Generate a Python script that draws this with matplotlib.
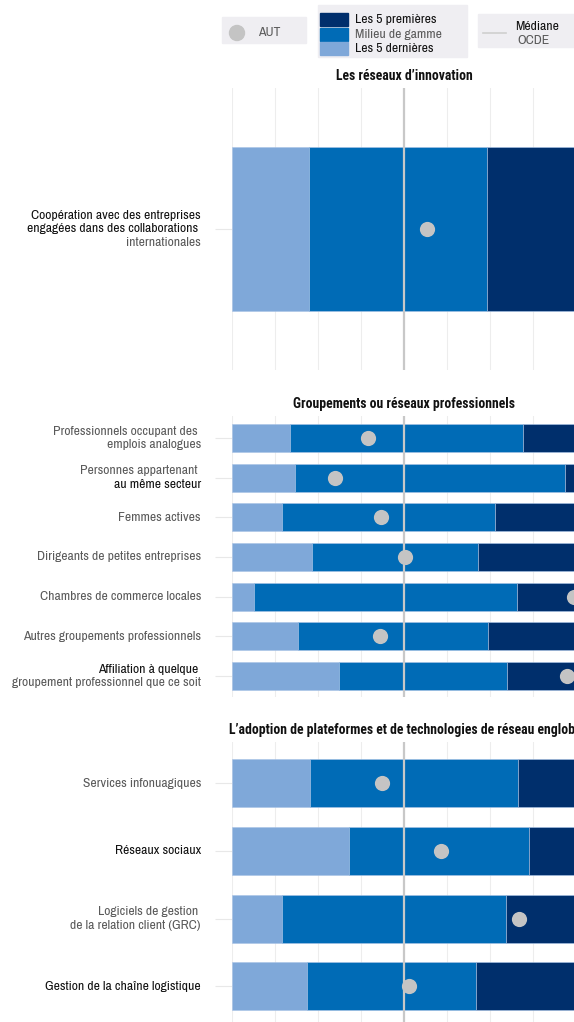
import matplotlib.pyplot as plt
import matplotlib.patches as mpatches
import numpy as np

plt.rcParams['font.family'] = ['Archivo Narrow', 'Liberation Sans', 'DejaVu Sans']
TITLE_FONT = ['Roboto Condensed', 'IBM Plex Sans Condensed', 'Liberation Sans', 'DejaVu Sans']

# --- data (share of firms, scaled 0-100, OECD median = 50) ---
titles = ["Les réseaux d’innovation",
          "Groupements ou réseaux professionnels",
          "L’adoption de plateformes et de technologies de réseau englobantes"]

labels_1 = ["Coopération avec des entreprises\nengagées dans des collaborations \ninternationales"]
lo_1 = [22.4]
hi_1 = [74.1]
aut_1 = [56.7]

labels_2 = ["Professionnels occupant des \nemplois analogues",
            "Personnes appartenant \nau même secteur",
            "Femmes actives",
            "Dirigeants de petites entreprises",
            "Chambres de commerce locales",
            "Autres groupements professionnels",
            "Affiliation à quelque \ngroupement professionnel que ce soit"]
lo_2 = [16.9, 18.3, 14.6, 23.3, 6.4, 19.1, 31.2]
hi_2 = [84.6, 96.8, 76.5, 71.4, 82.8, 74.3, 79.8]
aut_2 = [39.5, 29.9, 43.3, 50.2, 99.4, 43.0, 97.4]

labels_3 = ["Services infonuagiques",
            "Réseaux sociaux",
            "Logiciels de gestion \nde la relation client (GRC)",
            "Gestion de la chaîne logistique"]
lo_3 = [22.8, 34.1, 14.5, 21.7]
hi_3 = [83.0, 86.3, 79.6, 71.0]
aut_3 = [43.6, 60.7, 83.4, 51.5]

median = 50

# label lines shown in black (others are gray)
dark_lines = {"Coopération avec des entreprises", "engagées dans des collaborations ",
              "au même secteur", "Affiliation à quelque ",
              "Réseaux sociaux", "Gestion de la chaîne logistique"}

DARK = '#002F6C'
MID = '#006BB6'
LIGHT = '#7FA8D9'
DOT = '#C4C4C4'
GRAY_TXT = '#5a5a5a'
BLACK_TXT = '#111111'
LEG_BG = '#EFEEF2'

W, H = 574, 1022
fig = plt.figure(figsize=(W / 100, H / 100), dpi=100)


def rect(x0, y0, x1, y1):
    return [x0 / W, 1 - y1 / H, (x1 - x0) / W, (y1 - y0) / H]


def fx(x):
    return x / W


def fy(y):
    return 1 - y / H


panels = [
    (labels_1, lo_1, hi_1, aut_1, (88, 370), 0.5, 0.5, 0.585),
    (labels_2, lo_2, hi_2, aut_2, (416, 697), 0.555, 0.53, 0.70),
    (labels_3, lo_3, hi_3, aut_3, (742, 1022), 0.61, 0.53, 0.71),
]

for i, (labels, lo, hi, aut, (top, bot), ptop, pbot, bh) in enumerate(panels):
    ax = fig.add_axes(rect(232, top, 576, bot))
    n = len(labels)
    y = np.arange(n)
    lo = np.array(lo)
    hi = np.array(hi)
    ax.barh(y, lo, left=0, height=bh, color=LIGHT, edgecolor='#a9c3e6', linewidth=0.4, zorder=2)
    ax.barh(y, hi - lo, left=lo, height=bh, color=MID, edgecolor='#a9c3e6', linewidth=0.4, zorder=2)
    ax.barh(y, 100 - hi, left=hi, height=bh, color=DARK, edgecolor='#a9c3e6', linewidth=0.4, zorder=2)
    ax.axvline(median, color='#C8C8C8', lw=1.6, zorder=3)
    ax.scatter(aut, y, s=120, color=DOT, zorder=4, linewidths=0)

    ax.set_xlim(0, 100)
    ax.set_ylim(n - 1 + pbot, -ptop)
    ax.set_xticks(np.arange(0, 101, 12.5))
    ax.set_xticklabels([])
    ax.tick_params(axis='x', length=0)
    ax.grid(axis='x', color='#EDEDED', lw=0.8)
    ax.set_axisbelow(True)
    ax.set_yticks(y)
    ax.set_yticklabels([])
    ax.tick_params(axis='y', length=12, color='#E8E8E8', width=0.8)
    for s in ax.spines.values():
        s.set_visible(False)

    # category labels, line by line
    for yi, lab in zip(y, labels):
        lines = lab.split('\n')
        k = len(lines)
        for j, line in enumerate(lines):
            dy = ((k - 1) / 2 - j) * 13.5
            ax.annotate(line, xy=(0, yi), xycoords=ax.get_yaxis_transform(),
                        xytext=(-31, dy), textcoords='offset pixels',
                        ha='right', va='center', fontsize=9.8,
                        color=BLACK_TXT if line in dark_lines else GRAY_TXT)

    # panel title
    if i < 2:
        fig.text(fx(404), fy(top - 12), titles[i], ha='center', va='center', family=TITLE_FONT,
                 fontsize=9.9, fontweight='bold', color=BLACK_TXT)
    else:
        fig.text(fx(229), fy(top - 12), titles[i], ha='left', va='center', family=TITLE_FONT,
                 fontsize=9.9, fontweight='bold', color=BLACK_TXT)

# --- legend ---
LFS = 9.8
fig.patches.append(mpatches.Rectangle((fx(222), fy(43)), (306 - 222) / W, 26 / H,
                                      transform=fig.transFigure, color=LEG_BG, zorder=0))
fig.patches.append(mpatches.Ellipse((fx(237), fy(33)), 15 / W, 15 / H,
                                    transform=fig.transFigure, color=DOT, zorder=1))
fig.text(fx(258), fy(33), "AUT", ha='left', va='center', fontsize=LFS, color=GRAY_TXT)

fig.patches.append(mpatches.Rectangle((fx(318), fy(57)), (467 - 318) / W, 52 / H,
                                      transform=fig.transFigure, color=LEG_BG, zorder=0))
for (y0, y1), c, t, tc in zip([(13, 26), (28, 41), (42, 55)], [DARK, MID, LIGHT],
                              ["Les 5 premières", "Milieu de gamme", "Les 5 dernières"],
                              [BLACK_TXT, GRAY_TXT, BLACK_TXT]):
    fig.patches.append(mpatches.Rectangle((fx(320), fy(y1)), 28 / W, (y1 - y0) / H,
                                          transform=fig.transFigure, color=c, zorder=1))
    fig.text(fx(355), fy((y0 + y1) / 2), t, ha='left', va='center', fontsize=LFS, color=tc)

fig.patches.append(mpatches.Rectangle((fx(478), fy(47)), (576 - 478) / W, 33 / H,
                                      transform=fig.transFigure, color=LEG_BG, zorder=0))
fig.lines.append(plt.Line2D([fx(483), fx(506)], [fy(33), fy(33)], transform=fig.transFigure,
                            color='#CFCFCF', lw=1.2))
fig.text(fx(537), fy(27), "Médiane", ha='center', va='center', fontsize=LFS, color=BLACK_TXT)
fig.text(fx(534), fy(41), "OCDE", ha='center', va='center', fontsize=LFS, color=GRAY_TXT)

fig.savefig('out.png', dpi=100)
